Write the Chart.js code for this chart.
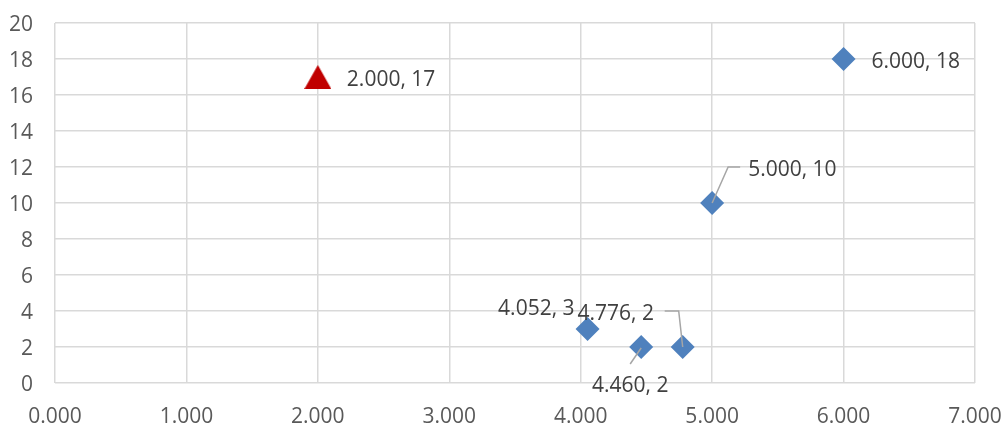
<!DOCTYPE html>
<html>
<head>
<meta charset="utf-8">
<script src="https://cdn.jsdelivr.net/npm/chart.js@4/dist/chart.umd.min.js"></script>
<style>
  html, body { margin: 0; padding: 0; background: #ffffff; }
  #wrap { width: 1005px; height: 424px; }
</style>
</head>
<body>
<div id="wrap"><canvas id="chart" width="1005" height="424"></canvas></div>
<script>
// Series values
const blueX = [4.052, 4.460, 4.776, 5.000, 6.000];
const blueY = [3, 2, 2, 10, 18];
const redX = [2.000];
const redY = [17];

// Axis ranges and tick steps
const xTicks = [0, 1, 2, 3, 4, 5, 6, 7];
const yTicks = [0, 2, 4, 6, 8, 10, 12, 14, 16, 18, 20];

const FONT = '"Open Sans", Lato, sans-serif';
const TEXT = '#595959';
const GRID = '#d9d9d9';

// Triangle marker centred on its bounding box
function triangleMarker(w, h, color) {
  const c = document.createElement('canvas');
  c.width = w; c.height = h;
  const g = c.getContext('2d');
  g.fillStyle = color;
  g.beginPath();
  g.moveTo(w / 2, 0);
  g.lineTo(w, h);
  g.lineTo(0, h);
  g.closePath();
  g.fill();
  return c;
}

// Placement of each value label relative to its point (pixels)
const labelPlacement = {
  0: [ // blue series
    { dx: -13, dy: -20, align: 'right' },
    { dx: -11, dy: 39, align: 'center', leader: [[-11, 17], [0, 1]] },
    { dx: -67, dy: -33, align: 'center', leader: [[-18, -36], [-4, -36], [0, 0]] },
    { dx: 36, dy: -33, align: 'left', leader: [[0, 0], [16, -36], [28, -36]] },
    { dx: 28, dy: 3, align: 'left' }
  ],
  1: [ // red series
    { dx: 29, dy: 3, align: 'left' }
  ]
};

const valueLabels = {
  id: 'valueLabels',
  afterDatasetsDraw(chart) {
    const ctx = chart.ctx;
    ctx.save();
    chart.data.datasets.forEach((ds, di) => {
      const meta = chart.getDatasetMeta(di);
      meta.data.forEach((pt, i) => {
        const p = labelPlacement[di][i];
        const v = ds.data[i];
        if (p.leader) {
          ctx.strokeStyle = '#a6a6a6';
          ctx.lineWidth = 1.5;
          ctx.beginPath();
          p.leader.forEach(([lx, ly], k) => {
            if (k === 0) ctx.moveTo(pt.x + lx, pt.y + ly);
            else ctx.lineTo(pt.x + lx, pt.y + ly);
          });
          ctx.stroke();
        }
        ctx.fillStyle = '#404040';
        ctx.font = '21px ' + FONT;
        ctx.textAlign = p.align;
        ctx.textBaseline = 'middle';
        ctx.fillText(v.x.toFixed(3) + ', ' + v.y, pt.x + p.dx, pt.y + p.dy);
      });
    });
    ctx.restore();
  }
};

const blueData = blueX.map((x, i) => ({ x, y: blueY[i] }));
const redData = redX.map((x, i) => ({ x, y: redY[i] }));

new Chart(document.getElementById('chart'), {
  type: 'scatter',
  data: {
    datasets: [
      {
        data: blueData,
        pointStyle: 'rectRot',
        pointRadius: 12,
        pointHoverRadius: 12,
        backgroundColor: '#4f81bd',
        borderColor: '#4f81bd',
        borderWidth: 0
      },
      {
        data: redData,
        pointStyle: triangleMarker(27, 24, '#c00000'),
        pointRadius: 12,
        backgroundColor: '#c00000',
        borderWidth: 0
      }
    ]
  },
  options: {
    responsive: false,
    animation: false,
    events: [],
    layout: { padding: { top: 23, right: 30, left: 0, bottom: 0 } },
    plugins: {
      legend: { display: false },
      tooltip: { enabled: false }
    },
    scales: {
      x: {
        type: 'linear',
        min: xTicks[0],
        max: xTicks[xTicks.length - 1],
        afterBuildTicks(s) { s.ticks = xTicks.map(v => ({ value: v })); },
        afterFit(s) { s.height = 41; s.paddingLeft = 0; s.paddingRight = 0; },
        border: { display: false },
        grid: { color: GRID, lineWidth: 1.5, drawTicks: false },
        ticks: {
          color: TEXT,
          font: { family: FONT, size: 21 },
          padding: 21,
          maxRotation: 0,
          callback: v => Number(v).toFixed(3)
        }
      },
      y: {
        type: 'linear',
        min: yTicks[0],
        max: yTicks[yTicks.length - 1],
        afterBuildTicks(s) { s.ticks = yTicks.map(v => ({ value: v })); },
        afterFit(s) { s.width = 55; s.paddingTop = 0; s.paddingBottom = 0; },
        border: { display: false },
        grid: { color: GRID, lineWidth: 1.5, drawTicks: false },
        ticks: {
          color: TEXT,
          font: { family: FONT, size: 21 },
          padding: 22,
          labelOffset: 2
        }
      }
    }
  },
  plugins: [valueLabels]
});
</script>
</body>
</html>
